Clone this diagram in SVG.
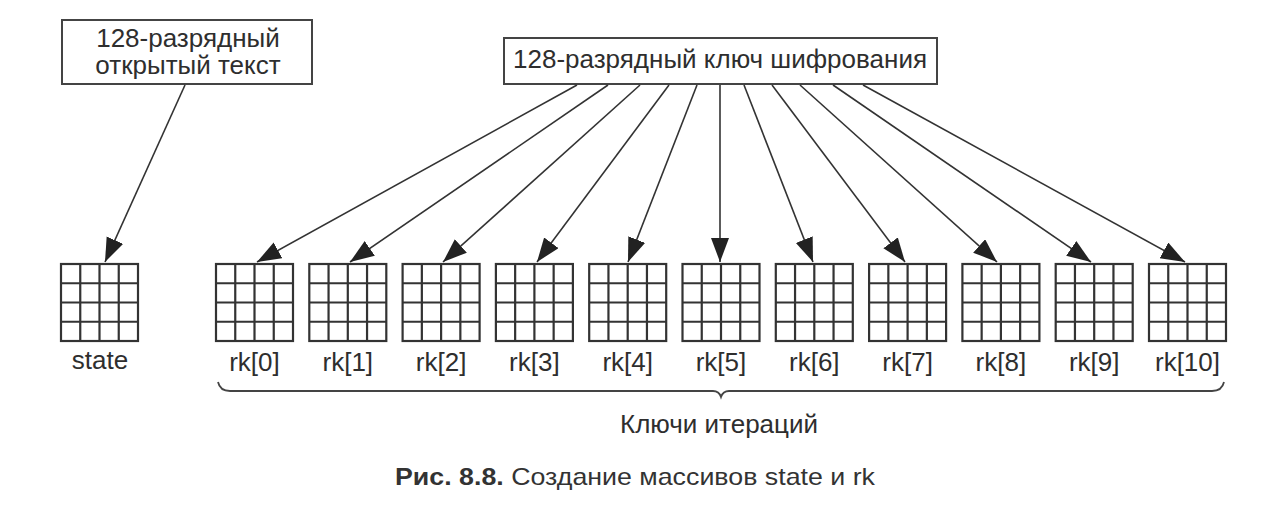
<svg xmlns="http://www.w3.org/2000/svg" width="1280" height="516" viewBox="0 0 1280 516">
<defs>
<style>
.box{fill:#fff;stroke:#444;stroke-width:2}
.t{font-family:"Liberation Sans",Arial,sans-serif;font-size:26px;fill:#2e2e2e;text-anchor:middle}
.g{fill:none;stroke:#333;stroke-width:2.2}
.c{stroke:#333;stroke-width:1.6;fill:none;marker-end:url(#ah)}
</style>
<marker id="ah" markerWidth="26" markerHeight="20" refX="24" refY="9" orient="auto" markerUnits="userSpaceOnUse">
<path d="M0,0 L24,9 L0,18 Z" fill="#222"/>
</marker>
<g id="grid">
<rect x="0" y="0" width="77" height="77" class="g"/>
<path d="M19.25,0V77M38.5,0V77M57.75,0V77M0,19.25H77M0,38.5H77M0,57.75H77" class="g"/>
</g>
</defs>
<rect width="1280" height="516" fill="#fff"/>

<g id="plaintext">
<rect x="62" y="20" width="250" height="64" class="box"/>
<text x="188" y="47" class="t">128-разрядный</text>
<text x="188" y="74" class="t">открытый текст</text>
</g>

<g id="key">
<rect x="504" y="38" width="433" height="46" class="box"/>
<text x="720" y="68" class="t">128-разрядный ключ шифрования</text>
</g>

<g id="state">
<use href="#grid" x="61" y="264"/>
<text x="100" y="369" class="t">state</text>
</g>

<g id="rk0"><use href="#grid" x="216" y="264"/><text x="254.5" y="371" class="t">rk[0]</text></g>
<g id="rk1"><use href="#grid" x="309.3" y="264"/><text x="347.8" y="371" class="t">rk[1]</text></g>
<g id="rk2"><use href="#grid" x="402.6" y="264"/><text x="441.1" y="371" class="t">rk[2]</text></g>
<g id="rk3"><use href="#grid" x="495.9" y="264"/><text x="534.4" y="371" class="t">rk[3]</text></g>
<g id="rk4"><use href="#grid" x="589.2" y="264"/><text x="627.7" y="371" class="t">rk[4]</text></g>
<g id="rk5"><use href="#grid" x="682.5" y="264"/><text x="721" y="371" class="t">rk[5]</text></g>
<g id="rk6"><use href="#grid" x="775.8" y="264"/><text x="814.3" y="371" class="t">rk[6]</text></g>
<g id="rk7"><use href="#grid" x="869.1" y="264"/><text x="907.6" y="371" class="t">rk[7]</text></g>
<g id="rk8"><use href="#grid" x="962.4" y="264"/><text x="1000.9" y="371" class="t">rk[8]</text></g>
<g id="rk9"><use href="#grid" x="1055.7" y="264"/><text x="1094.2" y="371" class="t">rk[9]</text></g>
<g id="rk10"><use href="#grid" x="1149" y="264"/><text x="1187.5" y="371" class="t">rk[10]</text></g>

<g id="connectors">
<line x1="185" y1="85" x2="105" y2="262" class="c"/>
<line x1="577" y1="85" x2="257" y2="262" class="c"/>
<line x1="608" y1="85" x2="350" y2="262" class="c"/>
<line x1="640" y1="85" x2="443" y2="262" class="c"/>
<line x1="669" y1="85" x2="537" y2="262" class="c"/>
<line x1="697" y1="85" x2="628" y2="262" class="c"/>
<line x1="720" y1="85" x2="720" y2="262" class="c"/>
<line x1="744" y1="85" x2="813" y2="262" class="c"/>
<line x1="772" y1="85" x2="905" y2="262" class="c"/>
<line x1="800" y1="85" x2="997" y2="262" class="c"/>
<line x1="833" y1="85" x2="1091" y2="262" class="c"/>
<line x1="863" y1="85" x2="1185" y2="262" class="c"/>
</g>

<g id="brace">
<path d="M218,382 Q220,391 230,391 H713 Q719,391 721,397 Q723,391 729,391 H1212 Q1222,391 1224,382" fill="none" stroke="#444" stroke-width="1.8"/>
<text x="719" y="433" class="t">Ключи итераций</text>
</g>

<g id="caption">
<text x="395" y="485" textLength="480" lengthAdjust="spacingAndGlyphs" style="font-family:'Liberation Sans',Arial,sans-serif;font-size:24px;fill:#333"><tspan font-weight="bold">Рис. 8.8.</tspan> Создание массивов state и rk</text>
</g>
</svg>
